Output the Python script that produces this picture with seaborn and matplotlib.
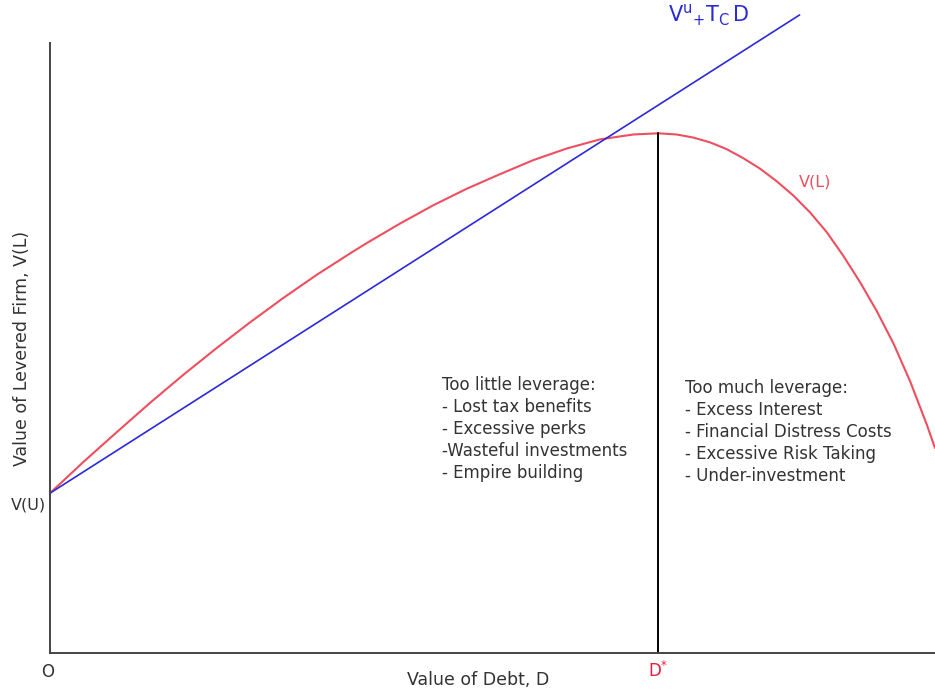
import matplotlib
matplotlib.use("Agg")
import matplotlib.pyplot as plt
import seaborn as sns
import pandas as pd

# ---- data (arbitrary units) ----
debt_vl = [0.0, 0.376, 0.754, 1.130, 1.506, 1.884, 2.260, 2.636, 3.014, 3.390,
           3.579, 3.955, 4.331, 4.708, 5.085, 5.461, 5.838, 6.215, 6.591, 6.873,
           7.08, 7.269, 7.46, 7.646, 7.83, 8.023, 8.21, 8.399, 8.59, 8.776,
           8.96, 9.153, 9.34, 9.529, 9.72, 9.906, 10.0]
value_vl = [2.62, 3.13, 3.62, 4.10, 4.56, 5.00, 5.42, 5.82, 6.20, 6.55,
            6.72, 7.04, 7.34, 7.61, 7.85, 8.08, 8.27, 8.42, 8.50, 8.52,
            8.50, 8.45, 8.37, 8.26, 8.115, 7.94, 7.735, 7.50, 7.22, 6.90,
            6.52, 6.08, 5.61, 5.08, 4.45, 3.75, 3.36]
debt_tax = [0.0, 8.47]
value_tax = [2.62, 10.46]
d_star = 6.873
v_star = 8.52
v_u = 2.62

little_lines = ["Too little leverage:", "- Lost tax benefits", "- Excessive perks",
                "-Wasteful investments", "- Empire building"]
much_lines = ["Too much leverage:", "- Excess Interest", "- Financial Distress Costs",
              "- Excessive Risk Taking", "- Under-investment"]

sns.set_theme(style="white")
plt.rcParams['font.family'] = ['DejaVu Sans']
plt.rcParams['mathtext.default'] = 'regular'

RED = "#ee4f5f"
BLUE = "#2a2ad8"
TXT = "#333333"

fig = plt.figure(figsize=(9.35, 6.9), dpi=100)
ax = fig.add_axes([50/935, (690-653)/690, 885/935, (653-43)/690])

df_vl = pd.DataFrame({"D": debt_vl, "V": value_vl})
df_tax = pd.DataFrame({"D": debt_tax, "V": value_tax})
sns.lineplot(data=df_vl, x="D", y="V", ax=ax, color=RED, linewidth=1.5)
sns.lineplot(data=df_tax, x="D", y="V", ax=ax, color=BLUE, linewidth=1.2,
             clip_on=False)
ax.plot([d_star, d_star], [0, v_star], color="black", linewidth=1.4)

ax.set_xlim(0, 10)
ax.set_ylim(0, 10)
ax.set_xticks([])
ax.set_yticks([])
ax.set_xlabel("")
ax.set_ylabel("")
for s in ["top", "right"]:
    ax.spines[s].set_visible(False)
for s in ["left", "bottom"]:
    ax.spines[s].set_color("#444444")
    ax.spines[s].set_linewidth(1.4)

FS = 12
# axis labels as text
fig.text(22/935, 1-348/690, "Value of Levered Firm, V(L)", rotation=90,
         ha="center", va="center", fontsize=12.5, color=TXT)
fig.text(478/935, 1-680/690, "Value of Debt, D", ha="center", va="center",
         fontsize=12.5, color=TXT)
fig.text(48/935, 1-672/690, "O", ha="center", va="center", fontsize=12, color=TXT)
ax.text(d_star, -0.3, r"$D^{*}$", ha="center", va="center", fontsize=12, color="#e02040")
ax.text(-0.05, v_u - 0.2, "V(U)", ha="right", va="center", fontsize=11.5, color=TXT)
ax.text(8.64, 7.72, "V(L)", ha="center", va="center", fontsize=11.5, color=RED)
ax.text(6.98, 10.45, r"$V^{u}{}_{+}T_{C}\,D$", ha="left", va="center",
        fontsize=15, color=BLUE, clip_on=False)

for i, t in enumerate(little_lines):
    ax.text(4.43, 4.39 - i * 0.361, t, ha="left", va="center", fontsize=FS, color=TXT)
for i, t in enumerate(much_lines):
    ax.text(7.18, 4.34 - i * 0.361, t, ha="left", va="center", fontsize=FS, color=TXT)

fig.savefig("out.png", dpi=100)
